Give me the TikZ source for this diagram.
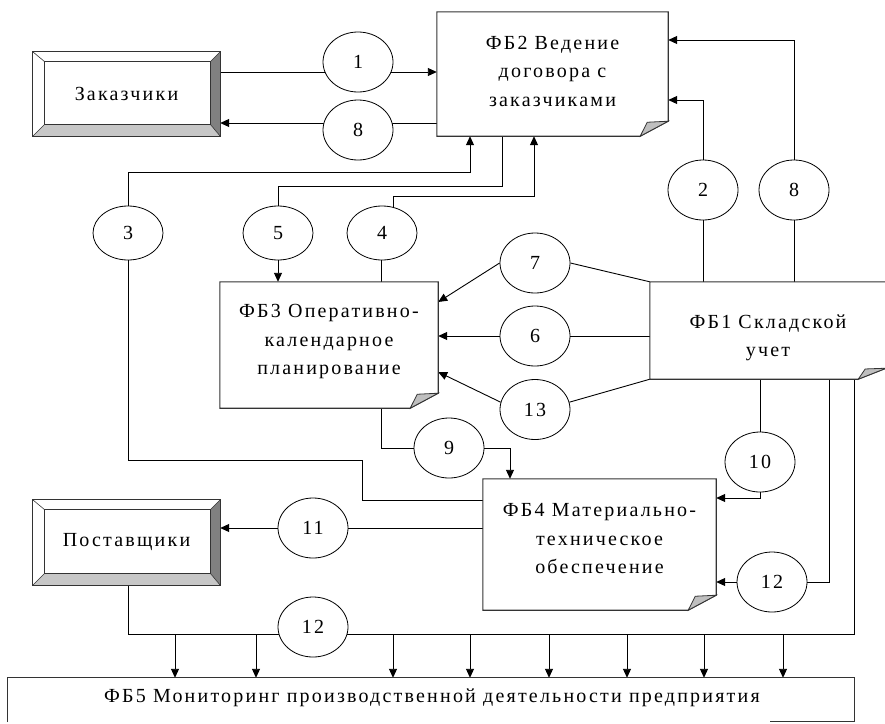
\documentclass[tikz,border=0pt]{standalone}
\usepackage{fontspec}
\setmainfont{Liberation Serif}[LetterSpace=11]
\usetikzlibrary{arrows.meta,shapes.geometric,calc}
\pgfdeclarelayer{background}
\pgfsetlayers{background,main}
\tikzset{
  circ/.style={ellipse, draw=black, line width=0.8pt, fill=white, minimum width=70pt, minimum height=60pt, inner sep=0pt, font=\fontsize{20}{22}\selectfont},
  circs/.style={circ, minimum height=54pt},
  lbl/.style={align=center, inner sep=0pt, font=\fontsize{20}{28.5}\selectfont},
  conn/.style={draw=black, line width=0.9pt},
  arr/.style={conn, -{Triangle[length=9pt,width=8pt]}},
  boxline/.style={draw=black!80, line width=1.1pt},
  foldfill/.style={fill=black!25, draw=black!80, line width=0.8pt},
  bevdark/.style={fill=black!50},
  bevlight/.style={fill=black!22},
}
\newcommand\foldbox[3]{%
  \draw[boxline] (#1.north west) -- (#1.north east) -- ([yshift=#3pt]#1.south east)
     -- ([xshift=-#2pt]#1.south east) -- (#1.south west) -- cycle;
  \draw[foldfill] ([yshift=#3pt]#1.south east) -- ([xshift=-#2pt]#1.south east)
     -- ([xshift=-0.75*#2pt,yshift=0.93*#3pt]#1.south east) -- cycle;
}
\newcommand\bevelbox[1]{%
  \coordinate (#1-inw) at ([xshift=12pt,yshift=-10pt]#1.north west);
  \coordinate (#1-ine) at ([xshift=-10pt,yshift=-10pt]#1.north east);
  \coordinate (#1-ise) at ([xshift=-10pt,yshift=12pt]#1.south east);
  \coordinate (#1-isw) at ([xshift=12pt,yshift=12pt]#1.south west);
  \fill[bevdark] (#1.north east) -- (#1.south east) -- (#1-ise) -- (#1-ine) -- cycle;
  \fill[bevlight] (#1.south west) -- (#1.south east) -- (#1-ise) -- (#1-isw) -- cycle;
  \draw[boxline] (#1.north west) rectangle (#1.south east);
  \draw[boxline] (#1-inw) rectangle (#1-ise);
  \draw[boxline, line width=0.6pt] (#1.north west) -- (#1-inw) (#1.north east) -- (#1-ine)
     (#1.south east) -- (#1-ise) (#1.south west) -- (#1-isw);
}
\begin{document}
\begin{tikzpicture}[x=1pt, y=-1pt]
\useasboundingbox (0,0) rectangle (885,723);
\clip (0,0) rectangle (885,723);

% boxes
\node[lbl, minimum width=187pt, minimum height=84pt] (zak) at (126.5,94) {Заказчики};
\bevelbox{zak}
\node[lbl, minimum width=187pt, minimum height=85pt] (post) at (126.5,542.5) {Поставщики};
\bevelbox{post}

\node[lbl, minimum width=231pt, minimum height=124pt] (fb2) at (552.5,74) {};
\node[lbl] (fb2t) at (552.5,71) {ФБ2 Ведение\\договора с\\заказчиками};
\foldbox{fb2}{28}{15}
\node[lbl, minimum width=218pt, minimum height=126pt] (fb3) at (329,345) {};
\node[lbl] (fb3t) at (329,342) {ФБ3 Оперативно-\\календарное\\планирование};
\foldbox{fb3}{28}{15}
\node[lbl, minimum width=236pt, minimum height=97pt] (fb1) at (768,330.5) {};
\node[lbl] (fb1t) at (768,338) {ФБ1 Складской\\учет};
\foldbox{fb1}{28}{11}
\node[lbl, minimum width=233pt, minimum height=131pt] (fb4) at (599.5,544.5) {};
\node[lbl] (fb4t) at (599.5,539) {ФБ4 Материально-\\техническое\\обеспечение};
\foldbox{fb4}{28}{15}
\node[lbl, minimum width=846pt, minimum height=44pt] (fb5) at (431,700) {};
\node[lbl] (fb5t) at (432,698) {ФБ5 Мониторинг производственной деятельности предприятия};
\draw[boxline] (fb5.south west) -- (fb5.north west) -- (fb5.north east) -- ([yshift=1pt]fb5.south east) -- ([xshift=-84pt,yshift=1pt]fb5.south east);

% circles
\node[circ] (c1) at (358,62) {1};
\node[circ] (c8a) at (358,130) {8};
\node[circs] (c3) at (128,233) {3};
\node[circs] (c5) at (278,233) {5};
\node[circs] (c4) at (382,233) {4};
\node[circ] (c2) at (703,190) {2};
\node[circ] (c8b) at (794,190) {8};
\node[circ] (c7) at (535,263) {7};
\node[circ] (c6) at (535,336) {6};
\node[circ] (c13) at (535,409.5) {13};
\node[circ] (c9) at (449,448) {9};
\node[circ] (c10) at (760,462) {10};
\node[circ] (c11) at (313,528) {11};
\node[circ] (c12b) at (772,582) {12};
\node[circ] (c12a) at (313,627) {12};

% connectors
\begin{pgfonlayer}{background}
\fill[white] (0,0) rectangle (885,723);
\draw[arr] (zak.east |- 0,72) -- (fb2.west |- 0,72);
\draw[arr] (fb2.west |- 0,123) -- (zak.east |- 0,123);
\draw[arr] (c3) |- (470,172) -- (fb2.south -| 470,0);
\draw[conn] (c3) |- (362,460) -- (362,500) -- (fb4.west |- 0,500);
\draw[arr] (fb2.south -| 502,0) |- (278,186) -- (c5) -- (fb3.north -| 278,0);
\draw[conn] (fb3.north -| 381,0) -- (381,233);
\draw[arr] (393,233) |- (534,196) -- (fb2.south -| 534,0);
\draw[arr] (fb1.north -| 703,0) -- (c2) |- (fb2.east |- 0,100);
\draw[arr] (fb1.north -| 794,0) -- (c8b) |- (fb2.east |- 0,40);
\draw[conn] (fb1.north west) -- (c7.east);
\draw[arr] (c7.west) -- (fb3.east |- 0,302);
\draw[arr] (fb1.west |- c6) -- (c6) -- (fb3.east |- c6);
\draw[conn] (fb1.south west) -- (c13.12);
\draw[arr] (c13.168) -- (fb3.east |- 0,372);
\draw[arr] (fb3.south -| 381,0) |- (c9) -| (fb4.north -| 510,0);
\draw[arr] (fb1.south -| 760,0) -- (c10) -- (760,498) -- (fb4.east |- 0,498);
\draw[arr] (fb4.west |- c11) -- (c11) -- (post.east |- c11);
\draw[arr] (fb1.south -| 829,0) |- (c12b) -- (fb4.east |- c12b);
\draw[conn] (fb1.south -| 854,0) |- (128,634) -- (post.south -| 128,0);
\foreach \x in {175,256,393,470,549,627,704,783}
  \draw[arr] (\x,634) -- (fb5.north -| \x,0);
\end{pgfonlayer}
\end{tikzpicture}
\end{document}
